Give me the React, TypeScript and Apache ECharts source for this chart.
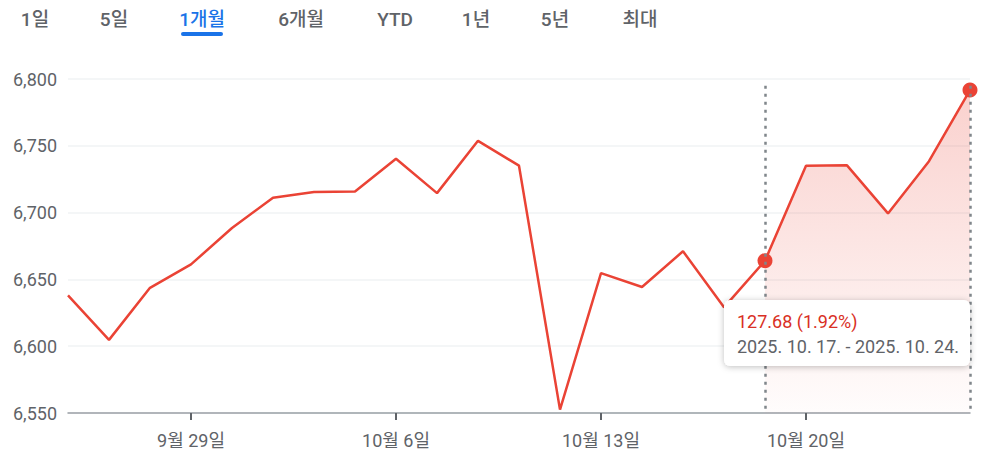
import React, { useEffect, useRef } from "react";
import * as echarts from "echarts";

const categories = [
  "9월 24일", "9월 25일", "9월 26일", "9월 29일", "9월 30일",
  "10월 1일", "10월 2일", "10월 3일", "10월 6일", "10월 7일",
  "10월 8일", "10월 9일", "10월 10일", "10월 13일", "10월 14일",
  "10월 15일", "10월 16일", "10월 17일", "10월 20일", "10월 21일",
  "10월 22일", "10월 23일", "10월 24일",
];
const values = [
  6637.97, 6604.72, 6643.7, 6661.21, 6688.46,
  6711.2, 6715.35, 6715.79, 6740.28, 6714.59,
  6753.72, 6735.11, 6552.51, 6654.72, 6644.31,
  6671.06, 6629.07, 6664.01, 6735.13, 6735.35,
  6699.4, 6738.44, 6791.69,
];
const labelIndices = [3, 8, 13, 18];
const tabs = ["1일", "5일", "1개월", "6개월", "YTD", "1년", "5년", "최대"];
const tabCenters = [35, 114, 202, 301, 395, 476, 555, 640];
const selectedTab = 2;
const rangeStart = 17;
const rangeEnd = 22;
const rangeLabel = "2025. 10. 17. - 2025. 10. 24.";
const yMin = 6550;
const yMax = 6800;
const yInterval = 50;

const FONT = "Roboto, 'Noto Sans CJK KR', 'Noto Sans', sans-serif";
const RED = "#ea4335";

export default function App() {
  const ref = useRef<HTMLDivElement>(null);
  useEffect(() => {
    if (!ref.current) return;
    const chart = echarts.init(ref.current, undefined, { renderer: "svg" });
    const areaData = values.map((v, i) => (i >= rangeStart && i <= rangeEnd ? v : null));
    const diff = values[rangeEnd] - values[rangeStart];
    const pct = (diff / values[rangeStart]) * 100;
    const changeText = `${diff.toFixed(2)} (${pct.toFixed(2)}%)`;
    const dotData = values.map((v, i) => (i === rangeStart || i === rangeEnd ? v : null));

    const tabGraphics: any[] = tabs.map((t, i) => ({
      type: "text",
      x: tabCenters[i],
      y: 19,
      style: {
        text: t,
        fontSize: 19,
        fontFamily: FONT,
        fontWeight: 500,
        fill: i === selectedTab ? "#1a73e8" : "#5f6368",
        align: "center",
        verticalAlign: "middle",
      },
    }));
    tabGraphics.push({
      type: "rect",
      shape: { x: tabCenters[selectedTab] - 21, y: 32, width: 42, height: 4, r: 2 },
      style: { fill: "#1a73e8" },
    });

    chart.setOption({
      animation: false,
      textStyle: { fontFamily: FONT },
      grid: { left: 68, right: 13, top: 79, bottom: 44, containLabel: false },
      xAxis: {
        type: "category",
        data: categories,
        boundaryGap: false,
        axisLine: { lineStyle: { color: "#9aa0a6", width: 1.5 } },
        axisTick: {
          show: true,
          length: 7,
          interval: (i: number) => labelIndices.includes(i),
          lineStyle: { color: "#5f6368", width: 2 },
        },
        axisLabel: {
          interval: (i: number) => labelIndices.includes(i),
          color: "#5f6368",
          fontSize: 18,
          margin: 18,
          fontFamily: FONT,
        },
        splitLine: { show: false },
      },
      yAxis: {
        type: "value",
        min: yMin,
        max: yMax,
        interval: yInterval,
        axisLine: { show: false },
        axisTick: { show: false },
        axisLabel: {
          color: "#5f6368",
          fontSize: 18,
          margin: 11,
          fontFamily: FONT,
          formatter: (v: number) => v.toLocaleString("en-US"),
        },
        splitLine: { lineStyle: { color: "#f1f3f4", width: 1.5 } },
      },
      series: [
        {
          type: "line",
          data: areaData,
          symbol: "none",
          lineStyle: { width: 0 },
          areaStyle: {
            origin: "start",
            color: new echarts.graphic.LinearGradient(0, 0, 0, 1, [
              { offset: 0, color: "rgba(234,67,53,0.35)" },
              { offset: 1, color: "rgba(234,67,53,0.02)" },
            ]),
          },
          markLine: {
            silent: true,
            symbol: "none",
            label: { show: false },
            lineStyle: { color: "#80868b", type: [3, 5], width: 2.5 },
            data: [
              [{ coord: [rangeStart, 6795] }, { coord: [rangeStart, yMin] }],
              [{ coord: [rangeEnd, 6795] }, { coord: [rangeEnd, yMin] }],
            ],
          },
          z: 1,
        },
        {
          type: "line",
          data: values,
          symbol: "none",
          lineStyle: { color: RED, width: 2.5 },
          z: 3,
        },
        {
          type: "scatter",
          data: dotData,
          symbolSize: 15,
          itemStyle: { color: RED, opacity: 1 },
          z: 4,
        },
      ],
      graphic: [
        ...tabGraphics,
        {
          type: "rect",
          shape: { x: 724, y: 300, width: 246, height: 66, r: 6 },
          style: {
            fill: "#ffffff",
            shadowBlur: 6,
            shadowColor: "rgba(0,0,0,0.25)",
            shadowOffsetY: 1,
          },
          z: 100,
        },
        {
          type: "text",
          x: 737,
          y: 321,
          style: {
            text: changeText,
            fontSize: 18,
            fontFamily: FONT,
            fill: "#d93025",
            verticalAlign: "middle",
          },
          z: 101,
        },
        {
          type: "text",
          x: 737,
          y: 346,
          style: {
            text: rangeLabel,
            fontSize: 18,
            fontFamily: FONT,
            fill: "#5f6368",
            verticalAlign: "middle",
          },
          z: 101,
        },
      ],
    });
    return () => chart.dispose();
  }, []);
  return (
    <div
      ref={ref}
      style={{ position: "absolute", left: 0, top: 0, width: 983, height: 457, background: "#fff" }}
    />
  );
}
